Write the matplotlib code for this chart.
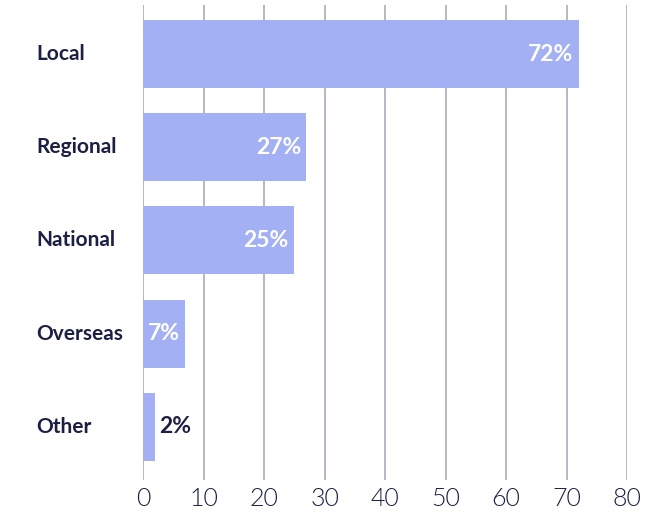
import matplotlib
matplotlib.use("Agg")
import matplotlib.pyplot as plt
from matplotlib.transforms import blended_transform_factory

categories = ["Local", "Regional", "National", "Overseas", "Other"]
values = [72, 27, 25, 7, 2]
xticks = [0, 10, 20, 30, 40, 50, 60, 70, 80]

bar_color = "#a3b0f4"
text_color = "#1b1f42"
grid_color = "#a9abbb"

fig = plt.figure(figsize=(6.64, 5.17), dpi=100)
ax = fig.add_axes([0.2154, 0.0716, 0.7290, 0.9184])

ypos = list(range(len(categories)))
ax.barh(ypos, values, height=0.73, color=bar_color, zorder=2)

ax.set_xlim(0, 80)
ax.set_ylim(4.57, -0.525)

for x in xticks:
    ax.axvline(x, color=grid_color, linewidth=1.2, zorder=1)

for y, v in zip(ypos, values):
    if v >= 5:
        ax.text(v - 0.9, y, f"{v}%", ha="right", va="center", color="white",
                fontsize=16.5, fontweight="bold", family="Lato", zorder=3)
    else:
        ax.text(v + 0.6, y, f"{v}%", ha="left", va="center", color=text_color,
                fontsize=16.5, fontweight="bold", family="Lato", zorder=3)

label_tf = blended_transform_factory(fig.transFigure, ax.transData)
for y, c in zip(ypos, categories):
    ax.text(36 / 664, y, c, transform=label_tf,
            ha="left", va="center", color=text_color, fontsize=15,
            fontweight="bold", family="Lato")

ax.set_yticks([])
ax.set_xticks(xticks)
ax.set_xticklabels([str(x) for x in xticks], family="Lato", fontweight=300,
                   fontsize=18, color=text_color)
ax.tick_params(axis="x", length=0, pad=5)
for s in ax.spines.values():
    s.set_visible(False)

fig.savefig("out.png", dpi=100)
